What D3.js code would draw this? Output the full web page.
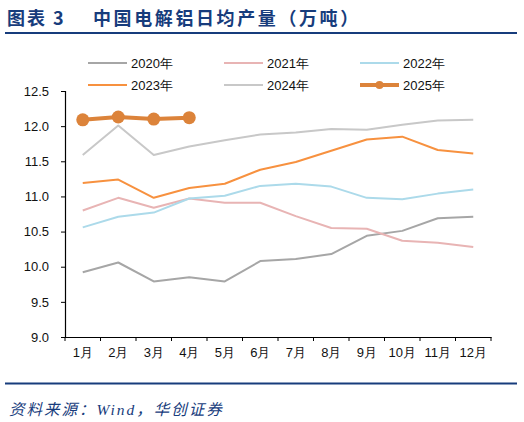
<!DOCTYPE html>
<html><head><meta charset="utf-8">
<script src="https://cdn.jsdelivr.net/npm/d3@7/dist/d3.min.js"></script>
<style>
html,body{margin:0;padding:0;background:#fff;}
svg{display:block;}
</style></head>
<body>
<svg id="chart" width="524" height="422"></svg>
<script>
const months = ["1月","2月","3月","4月","5月","6月","7月","8月","9月","10月","11月","12月"];
const yTicks = [9.0, 9.5, 10.0, 10.5, 11.0, 11.5, 12.0, 12.5];
const seriesNames = ["2020年","2021年","2022年","2023年","2024年","2025年"];
const v2020 = [9.92, 10.06, 9.79, 9.85, 9.79, 10.08, 10.11, 10.18, 10.44, 10.51, 10.69, 10.71];
const v2021 = [10.80, 10.98, 10.84, 10.97, 10.91, 10.91, 10.72, 10.55, 10.54, 10.37, 10.34, 10.28];
const v2022 = [10.56, 10.71, 10.77, 10.97, 11.01, 11.15, 11.18, 11.14, 10.98, 10.96, 11.04, 11.10];
const v2023 = [11.19, 11.24, 10.98, 11.12, 11.18, 11.38, 11.49, 11.65, 11.81, 11.85, 11.66, 11.61];
const v2024 = [11.59, 12.01, 11.59, 11.71, 11.80, 11.88, 11.91, 11.96, 11.95, 12.02, 12.08, 12.09];
const v2025 = [12.09, 12.13, 12.10, 12.12];
const colors = ["#a6a6a6","#e8b4b4","#acdaea","#f7913f","#c8c8c8","#dc833a"];

const series = [v2020, v2021, v2022, v2023, v2024, v2025].map((vals, i) => ({
  name: seriesNames[i], color: colors[i], values: vals, thick: i === 5
}));

const svg = d3.select("#chart");
const navy = "#173c7c";
const axisFont = "'Liberation Sans', Arial, sans-serif";
const cjkBold = "'Noto Sans CJK SC', sans-serif";

// Title
svg.append("text").attr("x", 7).attr("y", 25)
  .attr("font-family", cjkBold).attr("font-weight", "bold")
  .attr("font-size", 18).attr("letter-spacing", 2).attr("fill", navy)
  .text("图表 3");
svg.append("text").attr("x", 93).attr("y", 25)
  .attr("font-family", cjkBold).attr("font-weight", "bold")
  .attr("font-size", 18).attr("letter-spacing", 2.6).attr("fill", navy)
  .text("中国电解铝日均产量（万吨）");
svg.append("rect").attr("x", 5).attr("y", 32).attr("width", 512).attr("height", 2).attr("fill", navy);
svg.append("rect").attr("x", 5).attr("y", 382.5).attr("width", 512).attr("height", 2).attr("fill", navy);
svg.append("text").attr("x", 9).attr("y", 415)
  .attr("font-family", "'Liberation Serif', 'Noto Sans CJK SC', serif").attr("font-style", "italic")
  .attr("font-size", 15.5).attr("letter-spacing", 2).attr("fill", navy)
  .text("资料来源：Wind，华创证券");

// Scales
const x = d3.scaleBand().domain(months).range([65, 491]);
const y = d3.scaleLinear().domain([9, 12.5]).range([337, 91]);

const g = svg.append("g");

// Y axis
const yAxis = g.append("g").attr("transform", "translate(65,0)")
  .call(d3.axisLeft(y).tickValues(yTicks).tickFormat(d3.format(".1f")).tickSize(4).tickPadding(12));
yAxis.select(".domain").attr("stroke", "#000").attr("stroke-width", 1.2);
yAxis.selectAll("line").attr("stroke", "#000");
yAxis.selectAll("text").attr("font-family", axisFont).attr("font-size", 13).attr("fill", "#111");

// X axis
const xAxis = g.append("g").attr("transform", "translate(0,337)")
  .call(d3.axisBottom(x).tickSize(0).tickPadding(11));
xAxis.select(".domain").attr("stroke", "#000").attr("stroke-width", 1.2);
xAxis.selectAll("text").attr("font-family", axisFont).attr("font-size", 13).attr("fill", "#111");
const bounds = months.map(m => x(m)).concat([x.range()[1]]);
xAxis.selectAll(".bt").data(bounds).enter().append("line").attr("class","bt")
  .attr("x1", d => d).attr("x2", d => d).attr("y1", 0).attr("y2", 4).attr("stroke", "#000");

// Lines
const line = d3.line().x((d, i) => x(months[i]) + x.bandwidth() / 2).y(d => y(d));
series.forEach(s => {
  g.append("path").datum(s.values).attr("fill", "none").attr("stroke", s.color)
    .attr("stroke-width", s.thick ? 4 : 2).attr("stroke-linejoin", "round").attr("d", line);
  if (s.thick) {
    g.selectAll(".dot").data(s.values).enter().append("circle")
      .attr("cx", (d, i) => x(months[i]) + x.bandwidth() / 2).attr("cy", d => y(d))
      .attr("r", 6.5).attr("fill", s.color);
  }
});

// Legend
const legX = [88, 224, 360];
const legY = [63, 85];
series.forEach((s, i) => {
  const lx = legX[i % 3], ly = legY[Math.floor(i / 3)];
  const lg = svg.append("g");
  lg.append("line").attr("x1", lx).attr("x2", lx + 39).attr("y1", ly).attr("y2", ly)
    .attr("stroke", s.color).attr("stroke-width", s.thick ? 4 : 2);
  if (s.thick) lg.append("circle").attr("cx", lx + 19.5).attr("cy", ly).attr("r", 4).attr("fill", s.color);
  lg.append("text").attr("x", lx + 43).attr("y", ly + 4.5)
    .attr("font-family", axisFont).attr("font-size", 13).attr("fill", "#111").text(s.name);
});
</script>
</body></html>
